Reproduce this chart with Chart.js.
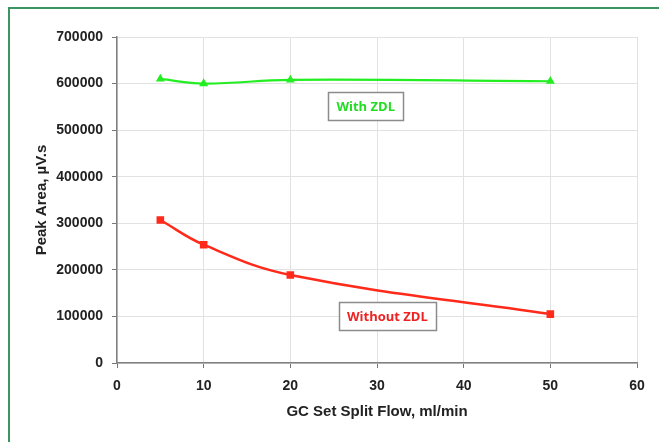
<!DOCTYPE html>
<html><head><meta charset="utf-8">
<script src="https://cdn.jsdelivr.net/npm/chart.js@4/dist/chart.umd.min.js"></script>
<style>
html,body{margin:0;padding:0;background:#fff;}
#wrap{position:absolute;left:0;top:0;width:659px;height:442px;}
#frame{position:absolute;left:8px;top:7px;width:651px;height:435px;border-left:2px solid #3a9563;border-top:2px solid #3a9563;box-sizing:border-box;pointer-events:none;}
</style></head>
<body>
<div id="wrap"><canvas id="c" width="659" height="442"></canvas><div id="frame"></div></div>
<script>
const flows = [5, 10, 20, 50];
const withZDL = [610000, 600000, 608000, 605000];
const withoutZDL = [307000, 254000, 189000, 105000];
const seriesNames = ["With ZDL", "Without ZDL"];
const xTitle = "GC Set Split Flow, ml/min";
const yTitle = "Peak Area, µV.s";
const labelAnchors = [[28.7, 552000], [31.2, 101000]];

const toPts = (xs, ys) => xs.map((x, i) => ({x: x, y: ys[i]}));

const boxLabels = {
  id: 'boxLabels',
  afterDatasetsDraw(chart) {
    const ctx = chart.ctx, xs = chart.scales.x, ys = chart.scales.y;
    const colors = ['#22dd22', '#ee2222'];
    ctx.save();
    ctx.font = 'bold 13px "Open Sans", "Liberation Sans", sans-serif';
    ctx.textAlign = 'center'; ctx.textBaseline = 'middle';
    seriesNames.forEach((name, i) => {
      const cx = xs.getPixelForValue(labelAnchors[i][0]);
      const cy = ys.getPixelForValue(labelAnchors[i][1]);
      const w = ctx.measureText(name).width + 16, h = 28;
      ctx.fillStyle = '#fff';
      ctx.fillRect(cx - w/2, cy - h/2, w, h);
      ctx.strokeStyle = '#8c8c8c'; ctx.lineWidth = 1.5;
      ctx.strokeRect(Math.round(cx - w/2) + 0.5, Math.round(cy - h/2) + 0.5, Math.round(w), h);
      ctx.fillStyle = colors[i];
      ctx.fillText(name, cx, cy + 1);
    });
    ctx.restore();
  }
};

const tickFont = {family: 'Liberation Sans', weight: 'bold', size: 14};
const titleFont = {family: 'Liberation Sans', weight: 'bold', size: 15};

new Chart(document.getElementById('c'), {
  type: 'line',
  data: {
    datasets: [
      {label: seriesNames[0], data: toPts(flows, withZDL), borderColor: '#22ee22', backgroundColor: '#22ee22',
       borderWidth: 2.2, pointStyle: 'triangle', pointRadius: 3, tension: 0.4},
      {label: seriesNames[1], data: toPts(flows, withoutZDL), borderColor: '#ff2a1a', backgroundColor: '#ff2a1a',
       borderWidth: 2.5, pointStyle: 'rect', pointRadius: 3.6, tension: 0.4}
    ]
  },
  options: {
    responsive: false, animation: false,
    layout: {padding: {left: 29, top: 37, right: 22, bottom: 17}},
    plugins: {legend: {display: false}, tooltip: {enabled: false}},
    scales: {
      x: {type: 'linear', min: 0, max: 60,
        ticks: {stepSize: 10, color: '#222', font: tickFont, padding: 10, callback: v => String(v)},
        grid: {color: '#e2e2e2', tickColor: '#777', tickLength: 5, lineWidth: 1},
        border: {color: '#808080', width: 1.5},
        title: {display: true, text: xTitle, color: '#222', font: titleFont, padding: {top: 8}},
        afterFit(s) { s.height = 62; }
      },
      y: {min: 0, max: 700000,
        ticks: {stepSize: 100000, color: '#222', font: tickFont, padding: 9, callback: v => String(v)},
        grid: {color: '#e2e2e2', tickColor: '#777', tickLength: 5, lineWidth: 1},
        border: {color: '#808080', width: 1.5},
        title: {display: true, text: yTitle, color: '#222', font: titleFont, padding: {bottom: 0}},
        afterFit(s) { s.width = 88; }
      }
    }
  },
  plugins: [boxLabels]
});
</script>
</body></html>
